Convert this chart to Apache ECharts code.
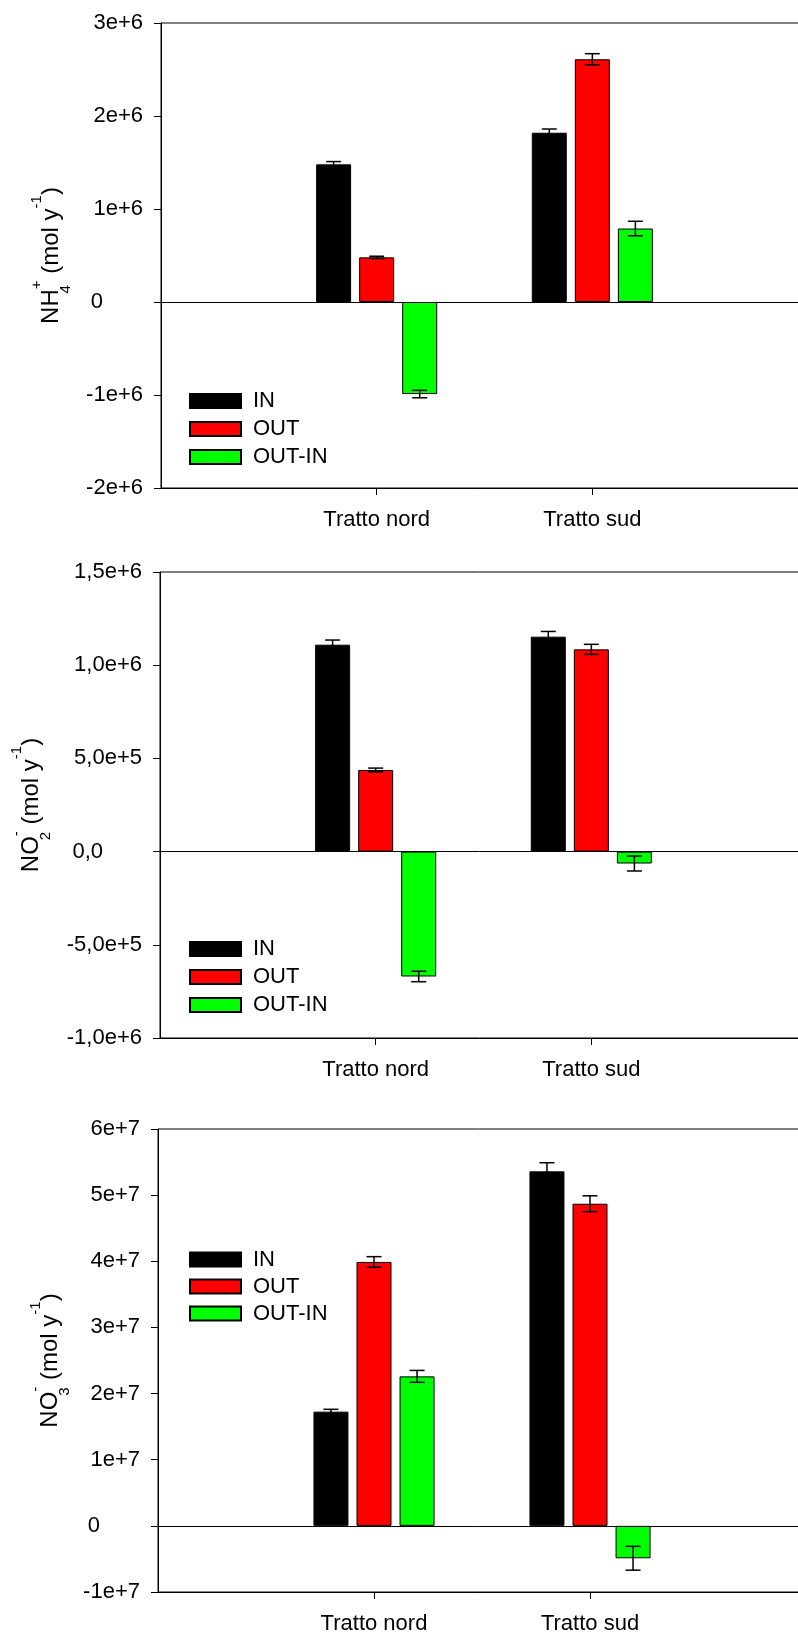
<!DOCTYPE html>
<html><head><meta charset="utf-8">
<script src="https://cdn.jsdelivr.net/npm/echarts@6/dist/echarts.min.js"></script>
<style>html,body{margin:0;padding:0;background:#fff}#c{width:798px;height:1636px}</style>
</head><body><div id="c"></div>
<script>
const categories = ['', 'Tratto nord', 'Tratto sud', ''];
const seriesNames = ['IN', 'OUT', 'OUT-IN'];

// NH4+ (mol y-1)
const nh4In = [1.48e6, 1.82e6];
const nh4InErr = [0.03e6, 0.04e6];
const nh4Out = [0.48e6, 2.61e6];
const nh4OutErr = [0.012e6, 0.06e6];
const nh4Diff = [-0.99e6, 0.79e6];
const nh4DiffErr = [0.04e6, 0.078e6];
const nh4Ticks = ['-2e+6', '-1e+6', '0', '1e+6', '2e+6', '3e+6'];

// NO2- (mol y-1)
const no2In = [1.11e6, 1.153e6];
const no2InErr = [0.025e6, 0.028e6];
const no2Out = [0.438e6, 1.085e6];
const no2OutErr = [0.01e6, 0.027e6];
const no2Diff = [-0.67e6, -0.064e6];
const no2DiffErr = [0.028e6, 0.04e6];
const no2Ticks = ['-1,0e+6', '-5,0e+5', '0,0', '5,0e+5', '1,0e+6', '1,5e+6'];

// NO3- (mol y-1)
const no3In = [1.727e7, 5.36e7];
const no3InErr = [0.035e7, 0.13e7];
const no3Out = [3.99e7, 4.87e7];
const no3OutErr = [0.08e7, 0.12e7];
const no3Diff = [2.26e7, -0.49e7];
const no3DiffErr = [0.09e7, 0.18e7];
const no3Ticks = ['-1e+7', '0', '1e+7', '2e+7', '3e+7', '4e+7', '5e+7', '6e+7'];

const FONT = "'Liberation Sans', Arial, sans-serif";
const COLORS = ['#000000', '#ff0000', '#00ff00'];
const BAR_W = 35, BAR_GAP = 0.23;

const panels = [
  { vals: [nh4In, nh4Out, nh4Diff], errs: [nh4InErr, nh4OutErr, nh4DiffErr], ticks: nh4Ticks,
    min: -2e6, max: 3e6, interval: 1e6, zeroPad: 40,
    name: '{m|NH}{sb|4}{st|+}{m| (mol y}{sp|-1}{m|)}', nameGap: 88,
    grid: { left: 161, top: 23, width: 647, height: 465 }, legendTop: 387, legendLH: 28 },
  { vals: [no2In, no2Out, no2Diff], errs: [no2InErr, no2OutErr, no2DiffErr], ticks: no2Ticks,
    min: -1e6, max: 1.5e6, interval: 5e5, zeroPad: 39,
    name: '{m|NO}{sb|2}{st|-}{m| (mol y}{sp|-1}{m|)}', nameGap: 107,
    grid: { left: 160, top: 572, width: 647, height: 466 }, legendTop: 935, legendLH: 28 },
  { vals: [no3In, no3Out, no3Diff], errs: [no3InErr, no3OutErr, no3DiffErr], ticks: no3Ticks,
    min: -1e7, max: 6e7, interval: 1e7, zeroPad: 40,
    name: '{m|NO}{sb|3}{st|-}{m| (mol y}{sp|-1}{m|)}', nameGap: 85,
    grid: { left: 158, top: 1129, width: 648, height: 463 }, legendTop: 1246, legendLH: 27 }
];

const pad = arr => ['-', ...arr, '-'];

const option = { animation: false, grid: [], xAxis: [], yAxis: [], legend: [], series: [] };

panels.forEach((p, i) => {
  option.grid.push(Object.assign({ show: true, borderColor: '#000', borderWidth: 1, backgroundColor: 'transparent',
    outerBoundsMode: 'none', containLabel: false }, p.grid));
  option.xAxis.push({
    type: 'category', gridIndex: i, data: categories, boundaryGap: false,
    axisLine: { onZero: false, lineStyle: { color: '#000', width: 1 } },
    axisTick: { show: true, length: 7, interval: (idx) => idx === 1 || idx === 2, lineStyle: { color: '#000', width: 1 } },
    axisLabel: { interval: 0, fontSize: 22, fontFamily: FONT, color: '#000', margin: 21 },
    splitLine: { show: false }
  });
  option.yAxis.push({
    type: 'value', gridIndex: i, min: p.min, max: p.max, interval: p.interval,
    axisLine: { show: true, lineStyle: { color: '#000', width: 1 } },
    axisTick: { show: true, length: 7, lineStyle: { color: '#000', width: 1 } },
    splitLine: { show: false },
    axisLabel: {
      fontSize: 22, fontFamily: FONT, color: '#000', margin: 18,
      formatter: (v) => {
        const lab = p.ticks[Math.round((v - p.min) / p.interval)];
        return v === 0 ? '{z|' + lab + '}' : lab;
      },
      rich: { z: { fontSize: 22, fontFamily: FONT, color: '#000', padding: [0, p.zeroPad, 0, 0] } }
    },
    name: p.name, nameLocation: 'middle', nameRotate: 90, nameGap: p.nameGap,
    nameTextStyle: {
      fontSize: 24, fontFamily: FONT, color: '#000',
      rich: {
        m: { fontSize: 24, fontFamily: FONT, color: '#000', lineHeight: 44 },
        sb: { fontSize: 15, fontFamily: FONT, color: '#000', lineHeight: 29, verticalAlign: 'bottom', width: 0 },
        st: { fontSize: 15, fontFamily: FONT, color: '#000', lineHeight: 15, verticalAlign: 'top' },
        sp: { fontSize: 15, fontFamily: FONT, color: '#000', lineHeight: 23, verticalAlign: 'top' }
      }
    }
  });
  option.legend.push({
    orient: 'vertical', left: 189, top: p.legendTop, padding: 0, itemGap: 0,
    itemWidth: 51, itemHeight: 14, icon: 'rect', selectedMode: false,
    data: seriesNames,
    textStyle: { fontSize: 22, fontFamily: FONT, color: '#000', lineHeight: p.legendLH, padding: [0, 0, 0, 7] }
  });
  seriesNames.forEach((nm, k) => {
    const s = {
      type: 'bar', name: nm, xAxisIndex: i, yAxisIndex: i,
      data: pad(p.vals[k]), barWidth: BAR_W, barGap: (BAR_GAP * 100) + '%',
      itemStyle: { color: COLORS[k], borderColor: '#000', borderWidth: 1 },
      z: 2
    };
    if (k === 0) {
      s.markLine = {
        silent: true, symbol: ['none', 'none'], label: { show: false },
        lineStyle: { color: '#000', type: 'solid', width: 1 },
        data: [{ yAxis: 0 }], z: 4
      };
    }
    option.series.push(s);
  });
  const errData = [];
  for (let k = 0; k < 3; k++) {
    for (let c = 0; c < 2; c++) {
      errData.push([c + 1, p.vals[k][c], p.errs[k][c], k]);
    }
  }
  option.series.push({
    type: 'custom', xAxisIndex: i, yAxisIndex: i, z: 5, silent: true,
    data: errData,
    renderItem: (params, api) => {
      const x = api.value(0), v = api.value(1), e = api.value(2), k = api.value(3);
      const c = api.coord([x, v]);
      const px = c[0] + (k - 1) * BAR_W * (1 + BAR_GAP);
      const top = api.coord([x, v + e])[1];
      const bot = api.coord([x, v - e])[1];
      const hw = 7.5;
      const st = { stroke: '#000', lineWidth: 1.5 };
      return { type: 'group', children: [
        { type: 'line', shape: { x1: px, y1: top, x2: px, y2: bot }, style: st },
        { type: 'line', shape: { x1: px - hw, y1: top, x2: px + hw, y2: top }, style: st },
        { type: 'line', shape: { x1: px - hw, y1: bot, x2: px + hw, y2: bot }, style: st }
      ] };
    }
  });
});

const chart = echarts.init(document.getElementById('c'), null, { renderer: 'canvas' });
chart.setOption(option);
</script>
</body></html>
